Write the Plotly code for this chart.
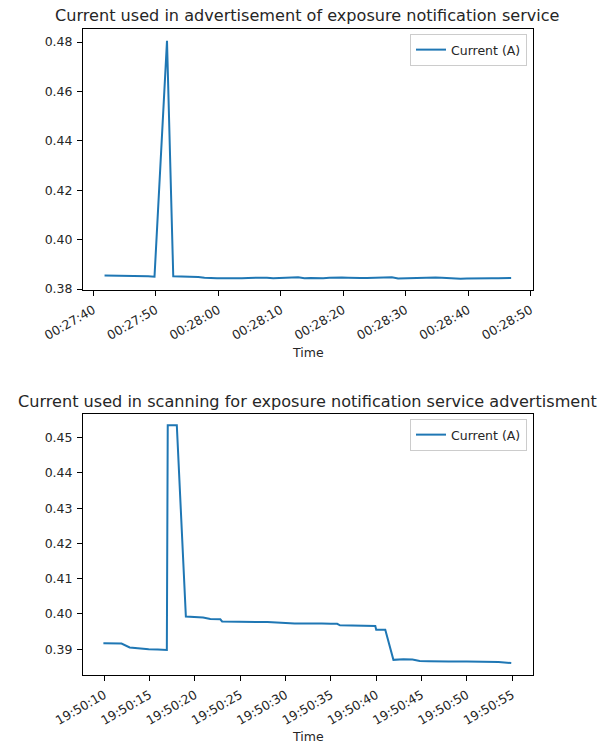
import plotly.graph_objects as go

DAY = "2020-06-01 "

# --- Advertisement run: sample times and measured current ---
adv_times = [
    "00:27:41.8", "00:27:42.8", "00:27:43.8", "00:27:44.8", "00:27:45.8", "00:27:46.8",
    "00:27:47.8", "00:27:48.8", "00:27:49.8", "00:27:51.8", "00:27:52.8", "00:27:53.8",
    "00:27:54.8", "00:27:55.8", "00:27:56.8", "00:27:57.8", "00:27:58.8", "00:27:59.8",
    "00:28:00.8", "00:28:01.8", "00:28:02.8", "00:28:03.8", "00:28:04.8", "00:28:05.8",
    "00:28:06.8", "00:28:07.8", "00:28:08.8", "00:28:09.8", "00:28:10.8", "00:28:11.8",
    "00:28:12.8", "00:28:13.8", "00:28:14.8", "00:28:15.8", "00:28:16.8", "00:28:17.8",
    "00:28:18.8", "00:28:19.8", "00:28:20.8", "00:28:21.8", "00:28:22.8", "00:28:23.8",
    "00:28:24.8", "00:28:25.8", "00:28:26.8", "00:28:27.8", "00:28:28.8", "00:28:29.8",
    "00:28:30.8", "00:28:31.8", "00:28:32.8", "00:28:33.8", "00:28:34.8", "00:28:35.8",
    "00:28:36.8", "00:28:37.8", "00:28:38.8", "00:28:39.8", "00:28:40.8", "00:28:41.8",
    "00:28:42.8", "00:28:43.8", "00:28:44.8", "00:28:45.8", "00:28:46.9",
]
adv_current = [
    0.3855, 0.3855, 0.3855, 0.3855, 0.3854, 0.3854,
    0.3853, 0.3852, 0.3850, 0.4805, 0.3852, 0.3852,
    0.3851, 0.3850, 0.3849, 0.3846, 0.3844, 0.3844,
    0.3844, 0.3845, 0.3844, 0.3844, 0.3845, 0.3846,
    0.3847, 0.3846, 0.3844, 0.3844, 0.3845, 0.3847,
    0.3848, 0.3844, 0.3845, 0.3843, 0.3844, 0.3846,
    0.3848, 0.3847, 0.3846, 0.3844, 0.3845, 0.3845,
    0.3846, 0.3846, 0.3847, 0.3848, 0.3843, 0.3844,
    0.3845, 0.3845, 0.3845, 0.3846, 0.3847, 0.3846,
    0.3844, 0.3843, 0.3842, 0.3843, 0.3844, 0.3845,
    0.3845, 0.3844, 0.3844, 0.3845, 0.3845,
]
adv_ticks = ["00:27:40", "00:27:50", "00:28:00", "00:28:10",
             "00:28:20", "00:28:30", "00:28:40", "00:28:50"]
adv_yticks = [0.38, 0.40, 0.42, 0.44, 0.46, 0.48]

# --- Scanning run: sample times and measured current ---
scan_times = [
    "19:50:09.9", "19:50:10.8", "19:50:10.9", "19:50:11.9", "19:50:12.8", "19:50:13.9",
    "19:50:14.9", "19:50:15.9", "19:50:16.9", "19:50:17.0", "19:50:18.0", "19:50:19.0",
    "19:50:19.9", "19:50:20.9", "19:50:21.7", "19:50:22.8", "19:50:23.0", "19:50:24.0",
    "19:50:25.0", "19:50:25.8", "19:50:26.0", "19:50:27.0", "19:50:28.0", "19:50:29.0",
    "19:50:29.8", "19:50:30.1", "19:50:31.0", "19:50:32.0", "19:50:33.0", "19:50:34.0",
    "19:50:35.0", "19:50:35.7", "19:50:36.0", "19:50:37.0", "19:50:38.0", "19:50:38.9",
    "19:50:39.9", "19:50:40.0", "19:50:41.0", "19:50:41.9", "19:50:43.0", "19:50:44.0",
    "19:50:44.8", "19:50:45.8", "19:50:46.7", "19:50:48.0", "19:50:50.0", "19:50:52.0",
    "19:50:53.5", "19:50:54.9",
]
scan_current = [
    0.3917, 0.3917, 0.3916, 0.3916, 0.3905, 0.3902,
    0.3900, 0.3899, 0.3898, 0.4535, 0.4535, 0.3993,
    0.3991, 0.3990, 0.3986, 0.3985, 0.3979, 0.3979,
    0.3979, 0.3979, 0.3977, 0.3977, 0.3977, 0.3976,
    0.3975, 0.3973, 0.3973, 0.3973, 0.3974, 0.3973,
    0.3972, 0.3972, 0.3968, 0.3968, 0.3968, 0.3968,
    0.3966, 0.3955, 0.3955, 0.3870, 0.3872, 0.3871,
    0.3867, 0.3866, 0.3865, 0.3865, 0.3865, 0.3865,
    0.3864, 0.3861,
]
scan_ticks = ["19:50:10", "19:50:15", "19:50:20", "19:50:25", "19:50:30",
              "19:50:35", "19:50:40", "19:50:45", "19:50:50", "19:50:55"]
scan_yticks = [0.39, 0.40, 0.41, 0.42, 0.43, 0.44, 0.45]

TITLE_TOP = "Current used in advertisement of exposure notification service"
TITLE_BOTTOM = "Current used in scanning for exposure notification service advertisment"

W, H = 605, 744
FONT = "DejaVu Sans"
LINE = "#1f77b4"
TXT = "#262626"
SMALL = 12.5
LARGE = 16.1


def stamp(ts):
    return [DAY + t for t in ts]


def px_x(p):
    return p / W


def px_y(p):
    return 1 - p / H


fig = go.Figure()
fig.add_trace(go.Scatter(x=stamp(adv_times), y=adv_current, mode="lines",
                         name="Current (A)", line=dict(color=LINE, width=2),
                         xaxis="x", yaxis="y", legend="legend"))
fig.add_trace(go.Scatter(x=stamp(scan_times), y=scan_current, mode="lines",
                         name="Current (A)", line=dict(color=LINE, width=2),
                         xaxis="x2", yaxis="y2", legend="legend2"))

axis_common = dict(showline=True, linecolor="black", linewidth=1, mirror=True,
                   ticks="outside", ticklen=5, tickwidth=1, tickcolor="black",
                   showgrid=False, zeroline=False, automargin=False,
                   ticklabelstandoff=2,
                   tickfont=dict(family=FONT, size=SMALL, color=TXT))

legend_common = dict(xanchor="right", yanchor="top",
                     bgcolor="rgba(255,255,255,0.8)", bordercolor="#cccccc",
                     borderwidth=1, font=dict(family=FONT, size=SMALL, color=TXT),
                     itemwidth=30, tracegroupgap=0)

fig.update_layout(
    width=W, height=H,
    margin=dict(l=0, r=0, t=0, b=0),
    plot_bgcolor="white", paper_bgcolor="white",
    font=dict(family=FONT, size=SMALL, color=TXT),
    xaxis=dict(domain=[px_x(83), px_x(533)], anchor="y", type="date",
               range=[DAY + "00:27:38.35", DAY + "00:28:50.4"],
               tickvals=stamp(adv_ticks), ticktext=adv_ticks, tickangle=-30,
               **axis_common),
    yaxis=dict(domain=[px_y(290), px_y(29)], anchor="x",
               range=[0.3796, 0.4853], tickvals=adv_yticks,
               tickformat=".2f", **axis_common),
    xaxis2=dict(domain=[px_x(83), px_x(533)], anchor="y2", type="date",
                range=[DAY + "19:50:07.65", DAY + "19:50:57.3"],
                tickvals=stamp(scan_ticks), ticktext=scan_ticks, tickangle=-30,
                **axis_common),
    yaxis2=dict(domain=[px_y(675), px_y(414)], anchor="x2",
                range=[0.3827, 0.4567], tickvals=scan_yticks,
                tickformat=".2f", **axis_common),
    legend=dict(x=px_x(527), y=px_y(34), **legend_common),
    legend2=dict(x=px_x(527), y=px_y(419), **legend_common),
    showlegend=True,
)

annotations = [
    dict(text=TITLE_TOP, x=px_x(307), y=px_y(16), yanchor="middle"),
    dict(text=TITLE_BOTTOM, x=px_x(307), y=px_y(401), yanchor="middle"),
]
for a in annotations:
    fig.add_annotation(xref="paper", yref="paper", xanchor="center",
                       showarrow=False, font=dict(family=FONT, size=LARGE, color=TXT),
                       **a)

for label_y in (352, 736):
    fig.add_annotation(text="Time", xref="paper", yref="paper", x=px_x(308),
                       y=px_y(label_y), xanchor="center", yanchor="middle",
                       showarrow=False, font=dict(family=FONT, size=SMALL, color=TXT))

fig.write_html("out.html")
